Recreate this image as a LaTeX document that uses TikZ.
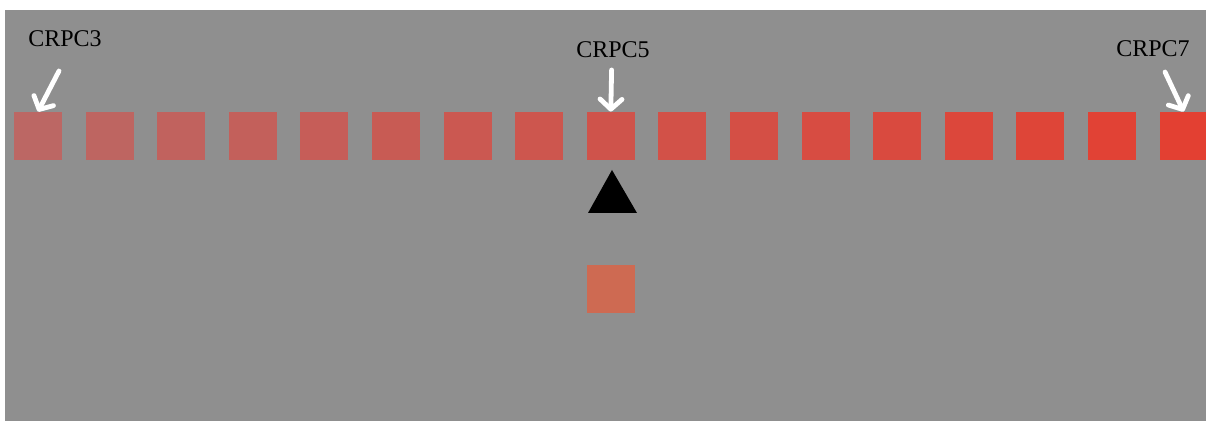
\documentclass[tikz,border=0pt]{standalone}
\usepackage{fontspec}
\setmainfont{Liberation Serif}
\usetikzlibrary{arrows.meta}

\definecolor{bggray}{RGB}{143,143,143}
\definecolor{crpclo}{RGB}{188,103,100}
\definecolor{crpchi}{RGB}{227,64,50}
\definecolor{cellout}{RGB}{206,106,82}

\begin{document}
\begin{tikzpicture}[
    x=0.5pt, y=0.5pt,
    sq/.style={rectangle, inner sep=0pt, minimum size=24pt},
    lbl/.style={inner sep=0pt, font=\fontsize{12}{14}\selectfont},
    warrow/.style={white, line width=2.4pt, line cap=round,
                   -{Straight Barb[length=5pt, width=11pt, round]}},
]
  \useasboundingbox (0,0) rectangle (1206,421);
  \fill [white]   (0,0) rectangle (1206,421);
  \fill [bggray]  (5,0) rectangle (1206,411);

  % row of cells, colour running from left to right
  \foreach \i in {0,...,16} {
    \pgfmathsetmacro\p{100*\i/16}
    \colorlet{sqfill}{crpchi!\p!crpclo}
    \node [sq, fill=sqfill] (sq\i) at ({38+71.6*\i},285) {};
  }

  % labels and arrows
  \node [lbl]      (l3) at (65,382)     {CRPC3};
  \node [lbl]      (l5) at (613,371)    {CRPC5};
  \node [lbl]      (l7) at (1153,372)   {CRPC7};
  \coordinate      (t3) at (59,350);
  \coordinate      (t5) at (611.6,351);
  \coordinate      (t7) at (1165,349);
  \draw [warrow]   (t3) -- (sq0.north);
  \draw [warrow]   (t5) -- (sq8.north);
  \draw [warrow]   (t7) -- (sq16.north);

  % triangle and the cell below
  \coordinate      (a) at (588,208);
  \coordinate      (b) at (637,208);
  \coordinate      (c) at (612,251);
  \fill [black]    (a) -- (b) -- (c) -- cycle;
  \node [sq, fill=cellout] (out) at (611,132) {};
\end{tikzpicture}
\end{document}
